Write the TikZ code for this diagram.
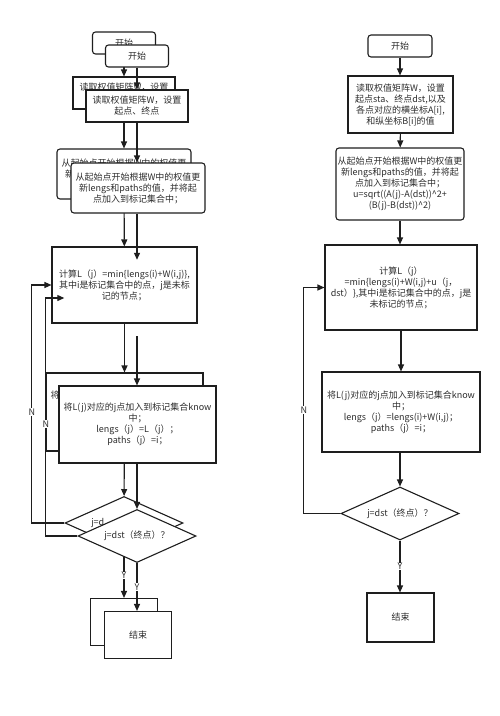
\documentclass[tikz,border=0pt]{standalone}
\usepackage{fontspec}
\newfontfamily\cjk{Noto Sans CJK SC}
\usetikzlibrary{arrows.meta,shapes.geometric}
\definecolor{lc}{RGB}{30,30,30}
\definecolor{tc}{RGB}{45,45,45}
\begin{document}
\begin{tikzpicture}[x=1pt,y=-1pt,
  box/.style={draw=lc, fill=white, line width=1.1pt, inner sep=0pt, align=center,
    font=\cjk\fontsize{9}{11}\selectfont, text=tc},
  rbox/.style={box, rounded corners=3pt},
  dec/.style={box, diamond, aspect=2.2, minimum width=118pt, minimum height=53pt},
  arr/.style={draw=lc, line width=1.1pt, -{Triangle[length=7pt,width=6pt]}},
  lab/.style={fill=white, inner sep=0.5pt, font=\cjk\fontsize{9}{11}\selectfont, text=tc}]
\useasboundingbox (0,0) rectangle (500,716);
\fill[white] (0,0) rectangle (500,716);

% ---------- left, back copy (mostly hidden behind the front copy) ----------
\node[rbox, minimum width=63pt, minimum height=22pt] (b1) at (124,43) {开始};
\node[box, minimum width=102pt, minimum height=32pt] (b2) at (124,93) {读取权值矩阵W，设置\\\phantom{起点、终点}};
\node[rbox, minimum width=134pt, minimum height=50pt] (b3) at (124,174) {从起始点开始根据W中的权值更\\新\phantom{lengs和paths的值，并将起}\\\phantom{点加入到标记集合中；}};
\node[box, minimum width=145pt, minimum height=76pt] (b4) at (124.5,285) {计算L（j）=min\{lengs(i)+W(i,j)\},\\其中i是标记集合中的点，j是未标\\记的节点；};
\node[box, minimum width=157pt, minimum height=78pt] (b5) at (124.5,412) {将L(j)对应的j点加入到标记集合know\\\phantom{中；}\\\phantom{lengs（j）=L（j）；}\\\phantom{paths（j）=i；}};
\node[dec] (bd) at (124,523) {j=d\phantom{st（终点）？}};
\node[box, minimum width=67pt, minimum height=47pt] (be) at (124,622) {};
\draw[arr] (b1) -- (b2);
\draw[arr] (b2) -- (b3);
\draw[arr] (b3) -- (b4);
\draw[arr] (b4) -- (b5);
\draw[arr] (b5) -- (bd);
\draw[arr] (bd) -- node[lab, pos=0.53] (bY) {Y} (be);
\draw[arr] (bd.west) -- ++(-33,0) coordinate (bc) |- (b4.west);
\node[lab] (bN) at (32,412) {N};

% ---------- left, front copy ----------
\node[rbox, minimum width=63pt, minimum height=22pt] (f1) at (137,56) {开始};
\node[box, minimum width=102pt, minimum height=32pt] (f2) at (137,106) {读取权值矩阵W，设置\\起点、终点};
\node[rbox, minimum width=134pt, minimum height=50pt] (f3) at (138,188) {从起始点开始根据W中的权值更\\新lengs和paths的值，并将起\\点加入到标记集合中；};
\node[inner sep=0pt, minimum width=145pt, minimum height=76pt] (f4) at (137,298) {};
\node[box, minimum width=157pt, minimum height=77pt] (f5) at (137.5,424.5) {将L(j)对应的j点加入到标记集合know\\中；\\lengs（j）=L（j）；\\paths（j）=i；};
\node[dec] (fd) at (137,536) {j=dst（终点）？};
\node[box, minimum width=67pt, minimum height=47pt] (fe) at (138,635) {结束};
\draw[arr] (f1) -- (f2);
\draw[arr] (f2) -- (f3.north -| f2.south);
\draw[arr] (f3.south -| f2.south) -- (f4.north);
\draw[arr] (f4) -- (f5.north -| f4.south);
\draw[arr] (f5.south -| fd.north) -- (fd);
\draw[arr] (fd) -- node[lab, pos=0.5] (fY) {Y} (fe.north -| fd.south);
\draw[arr] (fd.west) -- ++(-32,0) coordinate (fc) |- (f4.west);
\node[lab] (fN) at (46,424) {N};

% ---------- right ----------
\node[rbox, minimum width=64pt, minimum height=22pt] (r1) at (400,46) {开始};
\node[box, minimum width=105pt, minimum height=57pt] (r2) at (400.5,104.5) {读取权值矩阵W，设置\\起点sta、终点dst,以及\\各点对应的横坐标A[i],\\和纵坐标B[i]的值};
\node[rbox, minimum width=128pt, minimum height=72pt] (r3) at (400,184) {从起始点开始根据W中的权值更\\新lengs和paths的值，并将起\\点加入到标记集合中；\\u=sqrt((A(j)-A(dst))\^{}2+\\(B(j)-B(dst))\^{}2)};
\node[box, minimum width=152pt, minimum height=85pt] (r4) at (401,287.5) {计算L（j）\\=min\{lengs(i)+W(i,j)+u（j，\\dst）\},其中i是标记集合中的点，j是\\未标记的节点；};
\node[box, minimum width=158pt, minimum height=80pt] (r5) at (401,412) {将L(j)对应的j点加入到标记集合know\\中；\\lengs（j）=lengs(i)+W(i,j)；\\paths（j）=i；};
\node[dec] (rd) at (400,513.5) {j=dst（终点）？};
\node[box, minimum width=67pt, minimum height=49pt] (re) at (400.5,617.5) {结束};
\draw[arr] (r1) -- (r2.north -| r1.south);
\draw[arr] (r2) -- (r3);
\draw[arr] (r3) -- (r4.north -| r3.south);
\draw[arr] (r4) -- (r5);
\draw[arr] (r5.south -| rd.north) -- (rd);
\draw[arr] (rd) -- node[lab, pos=0.5] (rY) {Y} (re.north -| rd.south);
\draw[arr] (rd.west) -- ++(-37,0) coordinate (rc) |- (r4.west);
\node[lab] (rN) at (304,410) {N};
\end{tikzpicture}
\end{document}
